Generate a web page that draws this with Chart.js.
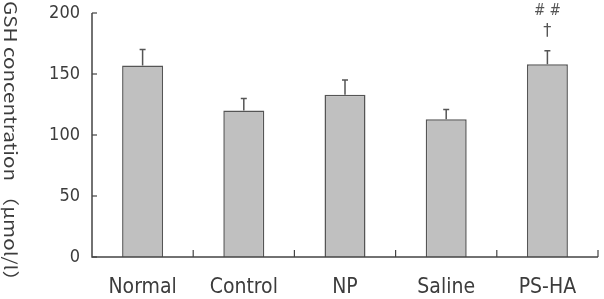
<!DOCTYPE html>
<html>
<head>
<meta charset="utf-8">
<script src="https://cdn.jsdelivr.net/npm/chart.js@4/dist/chart.umd.min.js"></script>
<style>
  html, body { margin: 0; padding: 0; background: #fff; }
  #wrap { width: 604px; height: 299px; }
</style>
</head>
<body>
<div id="wrap"><canvas id="canvasGSH"></canvas></div>
<script>
var groups = ['Normal', 'Control', 'NP', 'Saline', 'PS-HA'];
var gsh = [157, 120, 133, 113, 158];
var sd = [13, 10, 12, 8, 11];
var marks = ['', '', '', '', '# #\n\u2020'];
var yTicks = [0, 50, 100, 150, 200];

var axisColor = '#444';
var textColor = '#3c3c3c';
var fontName = "'DejaVu Sans Condensed', 'DejaVu Sans', sans-serif";
var titleFont = "'Noto Sans CJK KR', 'DejaVu Sans', sans-serif";

// axes with inward ticks, error bars, marks, vertical title
var extras = {
  id: 'extras',
  afterDatasetsDraw: function(chart) {
    var ctx = chart.ctx;
    var x = chart.scales.x, y = chart.scales.y;
    var area = chart.chartArea;
    var meta = chart.getDatasetMeta(0);
    ctx.save();

    // error bars (upper only)
    ctx.strokeStyle = '#555';
    ctx.lineWidth = 1.5;
    for (var i = 0; i < gsh.length; i++) {
      var bx = meta.data[i].x;
      var y0 = y.getPixelForValue(gsh[i]);
      var y1 = y.getPixelForValue(gsh[i] + sd[i]);
      ctx.beginPath();
      ctx.moveTo(bx, y0);
      ctx.lineTo(bx, y1);
      ctx.moveTo(bx - 3, y1);
      ctx.lineTo(bx + 3, y1);
      ctx.stroke();

      if (marks[i]) {
        var lines = marks[i].split('\n');
        ctx.fillStyle = '#555';
        ctx.textAlign = 'center';
        ctx.textBaseline = 'middle';
        ctx.font = '15px ' + fontName;
        ctx.fillText(lines[0], bx, y1 - 40);
        ctx.font = '18px ' + fontName;
        ctx.fillText(lines[1], bx, y1 - 19);
      }
    }

    // axis lines
    ctx.strokeStyle = axisColor;
    ctx.lineWidth = 1.5;
    ctx.beginPath();
    ctx.moveTo(area.left, y.getPixelForValue(200));
    ctx.lineTo(area.left, area.bottom);
    ctx.lineTo(area.right, area.bottom);
    ctx.stroke();

    // y ticks pointing right
    ctx.lineWidth = 1.2;
    yTicks.forEach(function(v) {
      var py = y.getPixelForValue(v);
      ctx.beginPath();
      ctx.moveTo(area.left, py);
      ctx.lineTo(area.left + 5, py);
      ctx.stroke();
    });

    // x ticks at category boundaries, pointing up
    for (var k = 1; k <= groups.length; k++) {
      var px = (x.getPixelForValue(k - 1) + x.getPixelForValue(k)) / 2;
      if (k === groups.length) px = area.right;
      ctx.beginPath();
      ctx.moveTo(px, area.bottom);
      ctx.lineTo(px, area.bottom - 7);
      ctx.stroke();
    }

    // y title, reading top to bottom
    ctx.fillStyle = textColor;
    ctx.font = '17px ' + titleFont;
    ctx.textAlign = 'left';
    ctx.textBaseline = 'middle';
    var title = 'GSH concentration \uff08\u03bcmol/l\uff09';
    var w = ctx.measureText(title).width;
    ctx.translate(10, 1);
    ctx.rotate(Math.PI / 2);
    ctx.scale(290 / w, 1);
    ctx.fillText(title, 0, 0);
    ctx.restore();
  }
};

var ctx = document.getElementById('canvasGSH');
var chart = new Chart(ctx, {
  type: 'bar',
  data: {
    labels: groups,
    datasets: [{
      label: 'GSH',
      data: gsh,
      backgroundColor: '#c0c0c0',
      borderColor: '#555',
      borderWidth: 1.5,
      barPercentage: 0.405,
      categoryPercentage: 1
    }]
  },
  options: {
    responsive: true,
    maintainAspectRatio: false,
    animation: false,
    layout: { padding: { top: 13, right: 6, left: 0, bottom: 0 } },
    plugins: { legend: { display: false }, tooltip: { enabled: false } },
    scales: {
      x: {
        grid: { display: false, drawTicks: false },
        border: { display: false },
        ticks: { color: textColor, font: { family: fontName, size: 21 }, padding: 18 },
        afterFit: function(s) { s.height = 42; s.paddingLeft = 0; s.paddingRight = 0; }
      },
      y: {
        min: 0,
        max: 200,
        grid: { display: false, drawTicks: false },
        border: { display: false },
        ticks: {
          stepSize: 50,
          color: textColor,
          font: { family: fontName, size: 18 },
          padding: 12
        },
        afterFit: function(s) { s.width = 92; s.paddingTop = 0; s.paddingBottom = 0; }
      }
    }
  },
  plugins: [extras]
});
</script>
</body>
</html>
